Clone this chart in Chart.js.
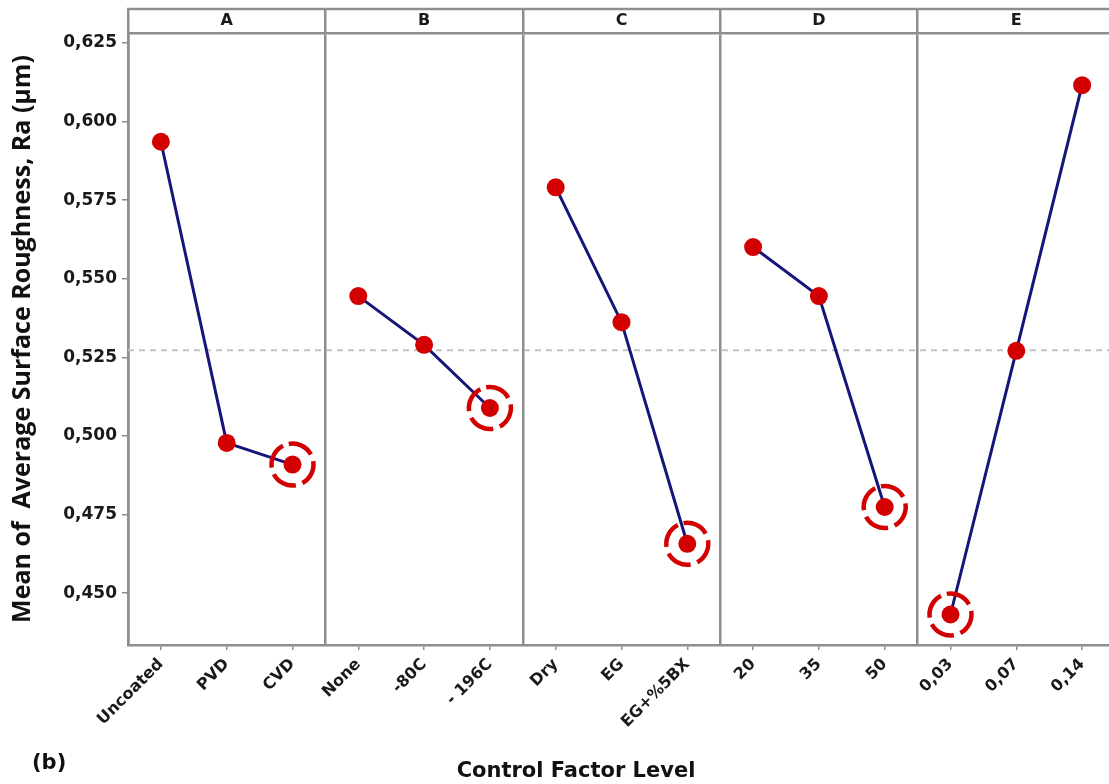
<!DOCTYPE html>
<html>
<head>
<meta charset="utf-8">
<title>Main effects plot - Ra</title>
<script src="https://cdn.jsdelivr.net/npm/chart.js@4.4.1/dist/chart.umd.min.js"></script>
<style>
  html, body { margin: 0; padding: 0; background: #fff; overflow: hidden; }
  #wrap { width: 1124px; height: 784px; }
</style>
</head>
<body>
<div id="wrap"><canvas id="effects"></canvas></div>
<script>
// control factors and their levels
const factors = ["A", "B", "C", "D", "E"];
const levelsA = ["Uncoated", "PVD", "CVD"];
const levelsB = ["None", "-80C", "- 196C"];
const levelsC = ["Dry", "EG", "EG+%5BX"];
const levelsD = ["20", "35", "50"];
const levelsE = ["0,03", "0,07", "0,14"];

// mean of average surface roughness Ra (µm) for each level
const meansA = [0.5936, 0.4978, 0.4909];
const meansB = [0.5445, 0.5290, 0.5089];
const meansC = [0.5791, 0.5362, 0.4657];
const meansD = [0.5601, 0.5445, 0.4774];
const meansE = [0.4432, 0.5271, 0.6116];

const yTicks = [0.450, 0.475, 0.500, 0.525, 0.550, 0.575, 0.600, 0.625];

const frameGray = "#8e8e8e";
const dotRed = "#d20000";
const lineBlue = "#16167a";
const tickFont = { family: "DejaVu Sans", weight: "bold", size: 16 };

const panels = [
  { levels: levelsA, means: meansA },
  { levels: levelsB, means: meansB },
  { levels: levelsC, means: meansC },
  { levels: levelsD, means: meansD },
  { levels: levelsE, means: meansE }
];

const labels = [].concat(levelsA, levelsB, levelsC, levelsD, levelsE);
const allMeans = [].concat(meansA, meansB, meansC, meansD, meansE);
const grandMean = allMeans.reduce((s, v) => s + v, 0) / allMeans.length;

const datasets = panels.map((p, k) => ({
  label: factors[k],
  data: p.levels.map((lv, i) => ({ x: lv, y: p.means[i] })),
  borderColor: lineBlue,
  borderWidth: 3,
  pointRadius: 9,
  pointBackgroundColor: dotRed,
  pointBorderWidth: 0,
  tension: 0,
  xAxisID: "x",
  yAxisID: "y"
}));

// dotted grand mean reference line
const meanLine = {
  id: "meanLine",
  beforeDatasetsDraw(chart) {
    const { ctx, chartArea } = chart;
    const y = chart.scales.y.getPixelForValue(grandMean);
    ctx.save();
    ctx.strokeStyle = "#c2c2c2";
    ctx.lineWidth = 2;
    ctx.setLineDash([6, 5]);
    ctx.beginPath();
    ctx.moveTo(chartArea.left, y);
    ctx.lineTo(chartArea.right, y);
    ctx.stroke();
    ctx.restore();
  }
};

// dashed ring around the lowest Ra level of each factor
const optimum = {
  id: "optimum",
  afterDatasetsDraw(chart) {
    const ctx = chart.ctx;
    chart.data.datasets.forEach((ds, k) => {
      const vals = ds.data.map(d => d.y);
      const i = vals.indexOf(Math.min(...vals));
      const pt = chart.getDatasetMeta(k).data[i];
      ctx.save();
      ctx.strokeStyle = dotRed;
      ctx.lineWidth = 4.5;
      ctx.setLineDash([26, 7]);
      ctx.beginPath();
      ctx.arc(pt.x, pt.y, 21, -1.75, -1.75 + Math.PI * 2);
      ctx.stroke();
      ctx.restore();
    });
  }
};

// top edge of the factor header strip + captions
const frame = {
  id: "frame",
  afterDraw(chart) {
    const { ctx, chartArea } = chart;
    const top = chart.scales.xh.top + 9;
    ctx.save();
    ctx.strokeStyle = frameGray;
    ctx.lineWidth = 2.5;
    ctx.beginPath();
    ctx.moveTo(chartArea.left - 1, top);
    ctx.lineTo(chartArea.right, top);
    ctx.stroke();

    ctx.fillStyle = "#111";
    ctx.font = 'bold 21px "DejaVu Sans"';
    ctx.textAlign = "center";
    ctx.fillText("Control Factor Level", 576, 777);
    ctx.textAlign = "left";
    ctx.fillText("(b)", 32, 769);
    ctx.restore();
  }
};

new Chart(document.getElementById("effects"), {
  type: "line",
  data: { labels: labels, datasets: datasets },
  options: {
    responsive: true,
    maintainAspectRatio: false,
    animation: false,
    layout: { padding: 0 },
    plugins: { legend: { display: false }, tooltip: { enabled: false } },
    scales: {
      x: {
        type: "category",
        position: "bottom",
        offset: true,
        grid: { offset: false, drawOnChartArea: false, tickLength: 5, color: frameGray, lineWidth: 1.5 },
        border: { color: frameGray, width: 2.5 },
        ticks: { autoSkip: false, minRotation: 45, maxRotation: 45, padding: 5, color: "#1a1a1a", font: tickFont },
        afterFit: s => { s.height = 139; }
      },
      xh: {
        type: "category",
        position: "top",
        labels: factors,
        offset: true,
        grid: { offset: true, drawOnChartArea: true, tickLength: 24, color: frameGray, lineWidth: 2.5 },
        border: { color: frameGray, width: 2.5 },
        ticks: { padding: -21, color: "#1a1a1a", font: tickFont },
        afterFit: s => { s.height = 33; }
      },
      y: {
        min: 0.4335,
        max: 0.6282,
        afterBuildTicks: s => { s.ticks = yTicks.map(v => ({ value: v })); },
        grid: { drawOnChartArea: false, tickLength: 6, color: frameGray, lineWidth: 1.5 },
        border: { color: frameGray, width: 2.5 },
        ticks: {
          padding: 5,
          color: "#1a1a1a",
          font: { family: "DejaVu Sans", weight: "bold", size: 17 },
          callback: v => v.toFixed(3).replace(".", ",")
        },
        title: {
          display: true,
          text: "Mean of  Average Surface Roughness, Ra (µm)",
          color: "#111",
          font: { family: "Open Sans", weight: "bold", size: 25 },
          padding: { top: 8, bottom: 0 }
        },
        afterFit: s => { s.width = 128; }
      }
    }
  },
  plugins: [meanLine, optimum, frame]
});
</script>
</body>
</html>
